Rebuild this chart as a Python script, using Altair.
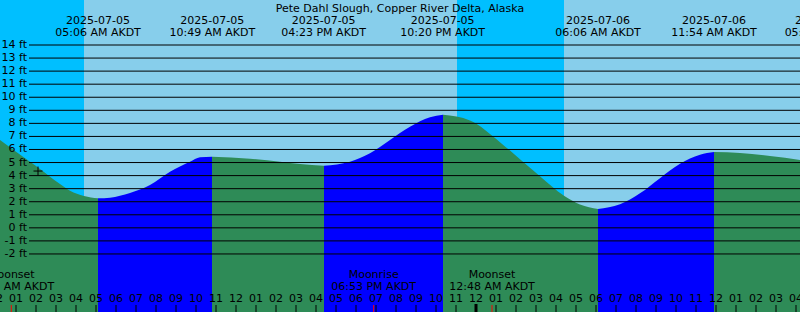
import altair as alt
import pandas as pd

TITLE = "Pete Dahl Slough, Copper River Delta, Alaska"
FONT = "DejaVu Sans"
FS = 11

# tide curve: hours since 2025-07-05 00:00 AKDT, height in ft
tide_hours = [0.2, 1.7, 2.2, 2.7, 3.2, 3.7, 4.4, 5.1, 5.7, 6.7, 7.7, 8.7, 9.7, 10.2, 10.8,
              12.7, 14.2, 15.2, 16.4, 17.7, 18.7, 19.7, 20.7, 21.7, 22.35, 23.7, 25.2, 26.2,
              27.2, 28.4, 29.2, 30.1, 31.2, 32.2, 33.2, 34.2, 35.2, 35.9, 37.2, 38.7, 40.2]
tide_ft = [6.73, 5.06, 4.51, 3.92, 3.36, 2.84, 2.44, 2.26, 2.31, 2.67, 3.28, 4.30, 5.06, 5.40, 5.45,
           5.29, 5.06, 4.89, 4.76, 5.06, 5.71, 6.73, 7.74, 8.46, 8.66, 8.22, 6.56, 5.25,
           3.95, 2.45, 1.78, 1.44, 1.80, 2.64, 3.80, 4.90, 5.60, 5.80, 5.73, 5.50, 5.20]

# high / low tide events (curve turning points)
extreme_hours = [5.1, 10.8, 16.4, 22.35, 30.1, 35.9]
label_hours = [5.1, 10.817, 16.383, 22.333, 30.1, 35.9, 41.55]
label_dates = ["2025-07-05", "2025-07-05", "2025-07-05", "2025-07-05", "2025-07-06", "2025-07-06", "2025-07-06"]
label_times = ["05:06 AM AKDT", "10:49 AM AKDT", "04:23 PM AKDT", "10:20 PM AKDT",
               "06:06 AM AKDT", "11:54 AM AKDT", "05:33 PM AKDT"]

# sky: night / day spans
sky_start = [0.2, 4.4, 23.05, 28.4]
sky_end = [4.4, 23.05, 28.4, 40.2]
sky_kind = ["night", "day", "night", "day"]

# moon events
moon_hours = [0.765, 18.883, 24.8]
moon_names = ["Moonset", "Moonrise", "Moonset"]
moon_times = ["12:46 AM AKDT", "06:53 PM AKDT", "12:48 AM AKDT"]

# y grid
grid_ft = list(range(-2, 15))
grid_labels = [f"{v} ft" for v in grid_ft]

# hour ticks along the bottom
tick_hours = list(range(0, 41))
tick_labels = ["12", "01", "02", "03", "04", "05", "06", "07", "08", "09", "10", "11",
               "12", "01", "02", "03", "04", "05", "06", "07", "08", "09", "10", "11",
               "12", "01", "02", "03", "04", "05", "06", "07", "08", "09", "10", "11",
               "12", "01", "02", "03", "04"]
midnight_hours = [24]

# current-time marker
now_hour = [2.1]
now_ft = [4.35]

# ---------------------------------------------------------------
bounds = [tide_hours[0]] + extreme_hours + [tide_hours[-1]]
rows = []
for i in range(len(bounds) - 1):
    phase = "falling" if i % 2 == 0 else "rising"
    for h, f in zip(tide_hours, tide_ft):
        if bounds[i] - 1e-9 <= h <= bounds[i + 1] + 1e-9:
            rows.append({"h": h, "ft": f, "seg": i, "phase": phase})
seg_df = pd.DataFrame(rows)

Y_MIN, Y_MAX = -6.444, 17.446
xs = alt.Scale(domain=[0.2, 40.2], nice=False, zero=False)
ys = alt.Scale(domain=[Y_MIN, Y_MAX], nice=False, zero=False)


def X(f):
    return alt.X(f, type="quantitative", scale=xs, axis=None)


def Y(f):
    return alt.Y(f, type="quantitative", scale=ys, axis=None)


sky_df = pd.DataFrame({"a": sky_start, "b": sky_end, "kind": sky_kind})
night = alt.Chart(sky_df[sky_df.kind == "night"]).mark_rect(color="#00BFFF").encode(
    x=X("a"), x2="b", y=alt.value(0), y2=alt.value(312))
day = alt.Chart(sky_df[sky_df.kind == "day"]).mark_rect(color="#87CEEB").encode(
    x=X("a"), x2="b", y=alt.value(0), y2=alt.value(312))

fall = alt.Chart(seg_df[seg_df.phase == "falling"]).mark_area(
    interpolate="monotone", color="#2E8B57").encode(
    x=X("h"), y=Y("ft"), y2=alt.datum(Y_MIN), detail="seg:N")
rise = alt.Chart(seg_df[seg_df.phase == "rising"]).mark_area(
    interpolate="monotone", color="#0000FF").encode(
    x=X("h"), y=Y("ft"), y2=alt.datum(Y_MIN), detail="seg:N")

grid_df = pd.DataFrame({"ft": grid_ft, "lab": grid_labels})
grid = alt.Chart(grid_df).mark_rule(color="black", strokeWidth=1).encode(
    y=Y("ft"), x=alt.value(29), x2=alt.value(800))
grid_text = alt.Chart(grid_df).mark_text(
    align="right", baseline="middle", font=FONT, fontSize=FS, color="black").encode(
    y=Y("ft"), x=alt.value(27), text="lab:N")

title = alt.Chart(pd.DataFrame({"t": [TITLE]})).mark_text(
    align="center", baseline="alphabetic", font=FONT, fontSize=FS, color="black").encode(
    x=alt.value(400), y=alt.value(11.5), text="t:N")

ext_df = pd.DataFrame({"h": label_hours, "d": label_dates, "t": label_times})
ext_date = alt.Chart(ext_df).mark_text(
    align="center", baseline="alphabetic", font=FONT, fontSize=FS, color="black").encode(
    x=X("h"), y=alt.value(24), text="d:N")
ext_time = alt.Chart(ext_df).mark_text(
    align="center", baseline="alphabetic", font=FONT, fontSize=FS, color="black").encode(
    x=X("h"), y=alt.value(36), text="t:N")

moon_df = pd.DataFrame({"h": moon_hours, "n": moon_names, "t": moon_times})
moon_name = alt.Chart(moon_df).mark_text(
    align="center", baseline="alphabetic", font=FONT, fontSize=FS, color="black").encode(
    x=X("h"), y=alt.value(278), text="n:N")
moon_time = alt.Chart(moon_df).mark_text(
    align="center", baseline="alphabetic", font=FONT, fontSize=FS, color="black").encode(
    x=X("h"), y=alt.value(289.5), text="t:N")
moon_tick = alt.Chart(moon_df).mark_rule(color="red", strokeWidth=1).encode(
    x=X("h"), y=alt.value(305), y2=alt.value(312))

tick_df = pd.DataFrame({"h": tick_hours, "lab": tick_labels})
ticks = alt.Chart(tick_df).mark_rule(color="black", strokeWidth=1).encode(
    x=X("h"), y=alt.value(305), y2=alt.value(312))
tick_text = alt.Chart(tick_df).mark_text(
    align="center", baseline="alphabetic", font=FONT, fontSize=FS, color="black").encode(
    x=X("h"), y=alt.value(301.5), text="lab:N")
mid = alt.Chart(pd.DataFrame({"h": midnight_hours})).mark_rule(color="black", strokeWidth=3).encode(
    x=X("h"), y=alt.value(304), y2=alt.value(312))

now = alt.Chart(pd.DataFrame({"h": now_hour, "ft": now_ft})).mark_point(
    shape="M-1,0L1,0M0,-1L0,1", filled=False, color="black", strokeWidth=1, size=81, opacity=1).encode(
    x=X("h"), y=Y("ft"))

chart = alt.layer(
    day, night, fall, rise, grid, grid_text, title, ext_date, ext_time,
    moon_name, moon_time, ticks, moon_tick, mid, tick_text, now
).properties(
    width=800, height=312, padding=0, autosize=alt.AutoSizeParams(type="none")
).configure_view(strokeWidth=0)

chart.save("out.html", embed_options={"renderer": "svg", "actions": False})
